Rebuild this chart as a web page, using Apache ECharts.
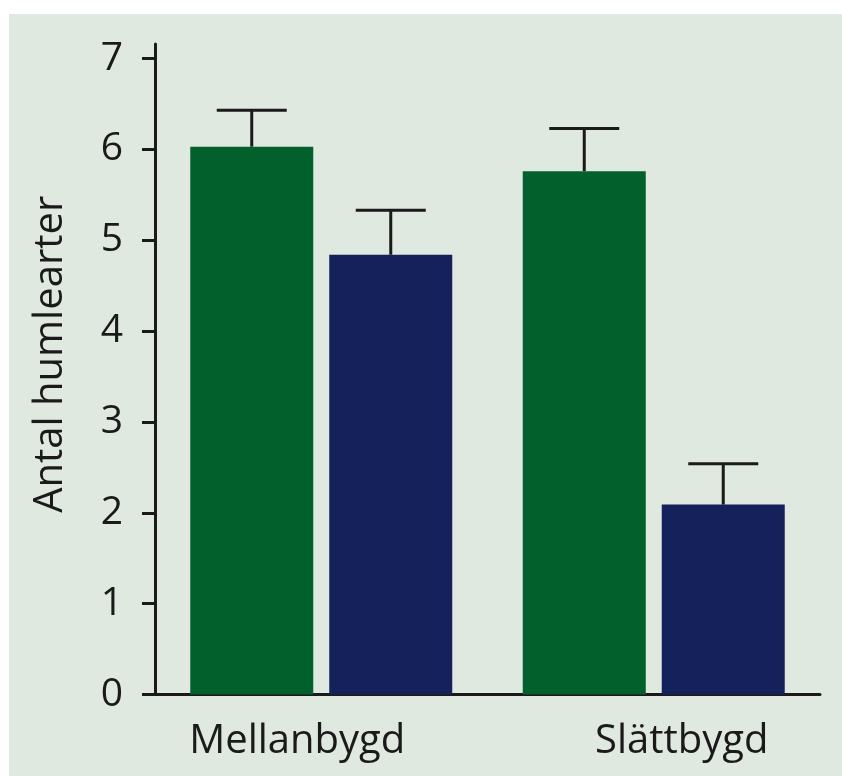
<!DOCTYPE html>
<html>
<head>
<meta charset="utf-8">
<script src="https://cdn.jsdelivr.net/npm/echarts@6/dist/echarts.min.js"></script>
<style>
  html, body { margin: 0; padding: 0; background: #ffffff; }
  #chart { width: 842px; height: 776px; }
</style>
</head>
<body>
<div id="chart"></div>
<script>
// Number of bumblebee species per landscape type
const categories = ['Mellanbygd', 'Slättbygd'];
const greenValues = [6.03, 5.76];
const greenErrTop = [6.43, 6.23];
const blueValues = [4.84, 2.09];
const blueErrTop = [5.33, 2.54];
const yTicks = [0, 1, 2, 3, 4, 5, 6, 7];

const GREEN = '#02602d';
const BLUE = '#14215b';
const INK = '#1a1a1a';
const PANEL = '#e0e9df';

const chart = echarts.init(document.getElementById('chart'), null, { renderer: 'canvas' });

// Error bar: vertical stem from bar top to upper limit, with a cap
function errorBarItem(seriesOffset) {
  return function (params, api) {
    const catIdx = api.value(0);
    const base = api.coord([catIdx, api.value(1)]);
    const top = api.coord([catIdx, api.value(2)]);
    const bandW = api.size([1, 0])[0];
    const x = base[0] + seriesOffset * bandW;
    const capHalf = 35;
    return {
      type: 'group',
      children: [
        { type: 'line', shape: { x1: x, y1: base[1], x2: x, y2: top[1] },
          style: { stroke: INK, lineWidth: 3 } },
        { type: 'line', shape: { x1: x - capHalf, y1: top[1], x2: x + capHalf, y2: top[1] },
          style: { stroke: INK, lineWidth: 3 } }
      ]
    };
  };
}

// bar geometry inside each category band (fractions of band width)
const BAR_W = 123;
const GAP = 16;
const offsetFrac = (BAR_W + GAP) / 2 / 332.5;

const option = {
  backgroundColor: '#ffffff',
  animation: false,
  graphic: [
    { type: 'rect', left: 9, top: 14, z: -10,
      shape: { width: 842 - 9, height: 776 - 14 },
      style: { fill: PANEL } }
  ],
  grid: { left: 155, right: 22, top: 44, bottom: 81.5, containLabel: false },
  xAxis: {
    type: 'category',
    data: categories,
    axisLine: { lineStyle: { color: INK, width: 3 } },
    axisTick: { show: false },
    axisLabel: {
      interval: 0,
      hideOverlap: false,
      margin: 27,
      fontFamily: 'Open Sans',
      fontSize: 40,
      color: INK,
      formatter: function (v) {
        return v === 'Mellanbygd' ? '{a|' + v + '}' : '{b|' + v + '}';
      },
      rich: {
        a: { fontFamily: 'Open Sans', fontSize: 40, color: INK, padding: [0, 48, 0, 0] },
        b: { fontFamily: 'Open Sans', fontSize: 40, color: INK, padding: [0, 0, 0, 56] }
      }
    }
  },
  yAxis: {
    type: 'value',
    min: 0,
    max: 7.16,
    name: 'Antal humlearter',
    nameLocation: 'middle',
    nameGap: 84,
    nameRotate: 90,
    nameTextStyle: { fontFamily: 'Open Sans', fontSize: 40, color: INK, padding: [0, 0, 0, 30] },
    axisLine: { show: true, lineStyle: { color: INK, width: 3 } },
    axisTick: { show: true, length: 13, customValues: yTicks, lineStyle: { color: INK, width: 3 } },
    axisLabel: { margin: 32, customValues: yTicks, fontFamily: 'Open Sans', fontSize: 39, color: INK },
    splitLine: { show: false }
  },
  series: [
    { type: 'bar', data: greenValues, barWidth: BAR_W, barGap: (GAP / BAR_W * 100).toFixed(1) + '%',
      itemStyle: { color: GREEN }, z: 2 },
    { type: 'bar', data: blueValues, barWidth: BAR_W,
      itemStyle: { color: BLUE }, z: 2 },
    { type: 'custom', renderItem: errorBarItem(-offsetFrac), z: 3,
      data: categories.map((c, i) => [i, greenValues[i], greenErrTop[i]]) },
    { type: 'custom', renderItem: errorBarItem(offsetFrac), z: 3,
      data: categories.map((c, i) => [i, blueValues[i], blueErrTop[i]]) }
  ]
};

chart.setOption(option);
</script>
</body>
</html>
